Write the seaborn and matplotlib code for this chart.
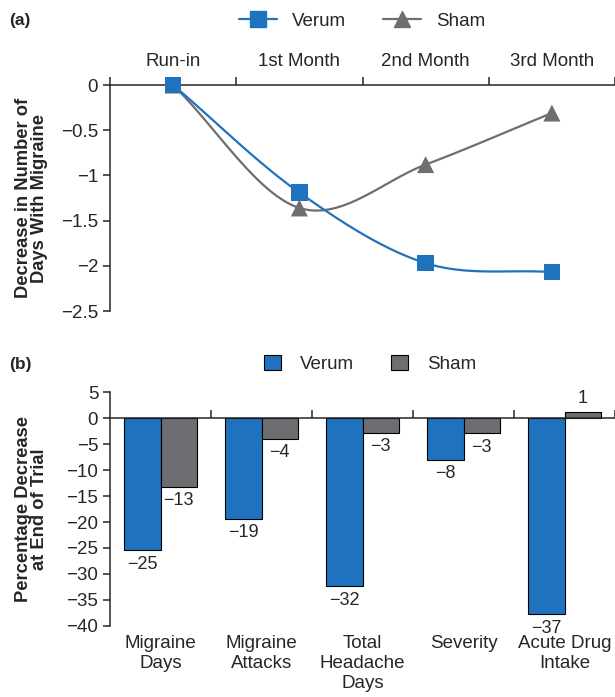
import numpy as np
import pandas as pd
import matplotlib
matplotlib.use("Agg")
import matplotlib.pyplot as plt
from matplotlib.lines import Line2D
from matplotlib.patches import Patch
import seaborn as sns

# Panel (a): decrease in number of days with migraine
months = ["Run-in", "1st Month", "2nd Month", "3rd Month"]
verum_days = [0, -1.19, -1.97, -2.07]
sham_days = [0, -1.36, -0.88, -0.31]
days_ticks = [0, -0.5, -1, -1.5, -2, -2.5]
days_tick_labels = ["0", "−0.5", "−1", "−1.5", "−2", "−2.5"]

# Panel (b): percentage decrease at end of trial
outcomes = ["Migraine\nDays", "Migraine\nAttacks", "Total\nHeadache\nDays",
            "Severity", "Acute Drug\nIntake"]
verum_pct = [-25.4, -19.4, -32.4, -8.0, -37.8]
sham_pct = [-13.2, -3.9, -2.8, -2.9, 1.2]
verum_text = ["−25", "−19", "−32", "−8", "−37"]
sham_text = ["−13", "−4", "−3", "−3", "1"]
pct_ticks = [5, 0, -5, -10, -15, -20, -25, -30, -35, -40]

blue = "#1f72bd"
gray = "#6d6e72"
fs = 13.5

sns.set_style("ticks")
plt.rcParams["font.family"] = ["Liberation Sans", "DejaVu Sans"]
plt.rcParams["axes.linewidth"] = 1.1
plt.rcParams["xtick.major.width"] = 1.1
plt.rcParams["ytick.major.width"] = 1.1


def smooth(y, n=40):
    # Catmull-Rom curve through the points (like a spreadsheet "smoothed line")
    y = np.asarray(y, float)
    x = np.arange(len(y), dtype=float)
    px = np.concatenate([[2 * x[0] - x[1]], x, [2 * x[-1] - x[-2]]])
    py = np.concatenate([[2 * y[0] - y[1]], y, [2 * y[-1] - y[-2]]])
    t = np.linspace(0, 1, n)
    xs, ys = [], []
    for i in range(1, len(px) - 2):
        for p, out in ((px, xs), (py, ys)):
            p0, p1, p2, p3 = p[i - 1], p[i], p[i + 1], p[i + 2]
            out.append(0.5 * (2 * p1 + (-p0 + p2) * t
                              + (2 * p0 - 5 * p1 + 4 * p2 - p3) * t ** 2
                              + (-p0 + 3 * p1 - 3 * p2 + p3) * t ** 3))
    return np.concatenate(xs), np.concatenate(ys)


fig = plt.figure(figsize=(6.15, 6.97), dpi=100)

# ---------- panel (a) ----------
ax = fig.add_axes([0.1789, 0.5538, 0.8211, 0.3242])
for vals, col, mk, ms in [(sham_days, gray, "^", 150), (verum_days, blue, "s", 140)]:
    sx, sy = smooth(vals)
    ax.plot(sx, sy, color=col, lw=1.6, zorder=2)
    sns.scatterplot(x=np.arange(len(vals)), y=vals, marker=mk, s=ms, color=col,
                    edgecolor="none", ax=ax, zorder=3, clip_on=False)

ax.set_xlim(-0.5, len(months) - 0.5)
ax.set_ylim(-2.5, 0)
ax.set_yticks(days_ticks, days_tick_labels)
ax.xaxis.tick_top()
ax.set_xticks(np.arange(len(months) + 1) - 0.5, [""] * (len(months) + 1))
ax.set_xticks(np.arange(len(months)), months, minor=True)
ax.tick_params(axis="x", which="major", direction="out", length=6)
ax.tick_params(axis="x", which="minor", length=0, pad=11, labelsize=fs)
ax.tick_params(axis="y", direction="out", length=5, labelsize=fs)
ax.spines["right"].set_visible(False)
ax.spines["bottom"].set_visible(False)
ax.set_ylabel("Decrease in Number of\nDays With Migraine", fontsize=13.2,
              fontweight="bold", linespacing=0.95)
ax.yaxis.set_label_coords(-0.122, 0.5)
ax.set_xlabel("")

handles_a = [Line2D([], [], color=blue, lw=1.6, marker="s", markersize=11),
             Line2D([], [], color=gray, lw=1.6, marker="^", markersize=12)]
fig.legend(handles_a, ["Verum", "Sham"], loc="center", ncol=2, frameon=False,
           bbox_to_anchor=(362 / 615, 1 - 21 / 697), fontsize=fs,
           handlelength=2.0, columnspacing=2.0, handletextpad=0.8)
fig.text(0.015, 1 - 21 / 697, "(a)", fontsize=12.5, fontweight="bold", va="center")

# ---------- panel (b) ----------
axb = fig.add_axes([0.1789, 0.1022, 0.8211, 0.3348])
bar_df = pd.DataFrame({
    "Outcome": outcomes * 2,
    "Group": ["Verum"] * len(outcomes) + ["Sham"] * len(outcomes),
    "Pct": verum_pct + sham_pct,
})
sns.barplot(data=bar_df, x="Outcome", y="Pct", hue="Group",
            palette={"Verum": blue, "Sham": gray}, saturation=1, width=0.72,
            edgecolor="black", linewidth=0.8, errorbar=None, legend=False, ax=axb)
axb.bar_label(axb.containers[0], labels=verum_text, padding=4, fontsize=13)
axb.bar_label(axb.containers[1], labels=sham_text, padding=4, fontsize=13)

axb.set_xlim(-0.5, len(outcomes) - 0.5)
axb.set_ylim(-40, 5)
axb.set_yticks(pct_ticks)
axb.spines["right"].set_visible(False)
axb.spines["top"].set_visible(False)
axb.spines["bottom"].set_position(("data", 0))
axb.set_xticks(np.arange(1, len(outcomes) + 1) - 0.5, [""] * len(outcomes))
axb.tick_params(axis="x", direction="in", length=6)
axb.tick_params(axis="y", direction="out", length=5, labelsize=fs)
axb.set_xlabel("")
axb.set_ylabel("Percentage Decrease\nat End of Trial", fontsize=13.2,
               fontweight="bold", linespacing=0.95)
axb.yaxis.set_label_coords(-0.122, 0.5)

sec = axb.secondary_xaxis("bottom")
sec.set_xticks(np.arange(len(outcomes)), outcomes)
sec.tick_params(length=0, pad=7, labelsize=fs)
sec.spines["bottom"].set_visible(False)

handles_b = [Patch(facecolor=blue, edgecolor="black", lw=0.8),
             Patch(facecolor=gray, edgecolor="black", lw=0.8)]
fig.legend(handles_b, ["Verum", "Sham"], loc="center", ncol=2, frameon=False,
           bbox_to_anchor=(370 / 615, 1 - 364 / 697), fontsize=fs,
           handlelength=0.9, handleheight=0.9, columnspacing=2.0, handletextpad=1.0)
fig.text(0.015, 1 - 364 / 697, "(b)", fontsize=12.5, fontweight="bold", va="center")

fig.savefig("out.png", dpi=100)
